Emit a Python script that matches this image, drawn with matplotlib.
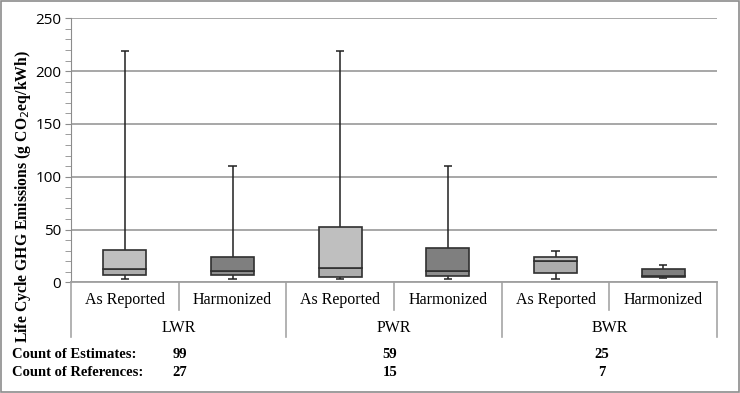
import matplotlib.pyplot as plt
from matplotlib.patches import Rectangle

groups = ['LWR', 'PWR', 'BWR']
subcats = ['As Reported', 'Harmonized']
count_estimates = [99, 59, 25]
count_references = [27, 15, 7]

# box stats per category (LWR AR, LWR H, PWR AR, PWR H, BWR AR, BWR H)
mins = [2.8, 3.1, 2.8, 2.8, 2.8, 3.8]
q1s = [7.2, 6.6, 4.7, 6.3, 9.1, 5.3]
medians = [12.6, 11.0, 13.5, 10.7, 19.9, 6.0]
q3s = [30.6, 23.7, 52.0, 32.2, 23.7, 12.6]
maxs = [219.3, 110.1, 219.3, 110.1, 29.6, 16.1]

serif = 'Liberation Serif'

fig = plt.figure(figsize=(7.4, 3.93), dpi=100)
fig.patches.append(Rectangle((0.002, 0.003), 0.996, 0.994, transform=fig.transFigure,
                             fill=False, edgecolor='#8c8c8c', linewidth=1.2))
ax = fig.add_axes([71/740, 1 - 282.3/393, 646/740, 264/393])

x = list(range(6))
upper_col = ['#bfbfbf', '#7f7f7f'] * 3
lower_col = ['#adadad', '#8f8f8f'] * 3
w = 0.4
ax.bar(x, [m - q for m, q in zip(medians, q1s)], bottom=q1s, width=w, color=lower_col,
       edgecolor='#303030', linewidth=1.2, zorder=3)
ax.bar(x, [q - m for q, m in zip(q3s, medians)], bottom=medians, width=w, color=upper_col,
       edgecolor='#303030', linewidth=1.2, zorder=3)
ax.vlines(x, q3s, maxs, color='#202020', linewidth=1.1, zorder=2)
ax.vlines(x, mins, q1s, color='#202020', linewidth=1.1, zorder=2)
ax.hlines(maxs, [i - 0.04 for i in x], [i + 0.04 for i in x], color='#202020', linewidth=1.1)
ax.hlines(mins, [i - 0.04 for i in x], [i + 0.04 for i in x], color='#202020', linewidth=1.1)

ax.set_xlim(-0.5, 5.5)
ax.set_ylim(0, 250)
ax.set_yticks(range(0, 251, 50))
ax.set_yticks(range(0, 251, 10), minor=True)
ax.tick_params(axis='y', which='both', direction='out', length=4, color='#8c8c8c',
               labelsize=11, pad=3)
for lbl in ax.get_yticklabels():
    lbl.set_family('Open Sans')
ax.set_xticks([])
ax.grid(axis='y', color='#a0a0a0', linewidth=1.3, zorder=0)
ax.set_axisbelow(True)
for s in ['top', 'right']:
    ax.spines[s].set_visible(False)
ax.spines['left'].set_color('#8c8c8c')
ax.spines['bottom'].set_color('#a0a0a0')
ax.spines['bottom'].set_linewidth(1.3)

tr = ax.get_xaxis_transform()
for i in x:
    ax.text(i, -0.068, subcats[i % 2], transform=tr, ha='center', va='center',
            family=serif, fontsize=11.5)
for sep in [0.5, 2.5, 4.5]:
    ax.plot([sep, sep], [0, -0.105], transform=tr, color='#a6a6a6', linewidth=1.2, clip_on=False)
for sep in [-0.5, 1.5, 3.5, 5.5]:
    ax.plot([sep, sep], [0, -0.206], transform=tr, color='#a6a6a6', linewidth=1.2, clip_on=False)
for g, name in enumerate(groups):
    ax.text(2 * g + 0.5, -0.172, name, transform=tr, ha='center', va='center',
            family=serif, fontsize=11.5)

fig.text(23/740, 1 - 197/393, 'Life Cycle GHG Emissions (g CO$_2$eq/kWh)', family=serif,
         fontweight='bold', fontsize=11.3, rotation=90, ha='center', va='center')

fig.text(12/740, 1 - 355/393, 'Count of Estimates:', family=serif, fontweight='bold',
         fontsize=10.5, va='center')
fig.text(12/740, 1 - 373/393, 'Count of References:', family=serif, fontweight='bold',
         fontsize=10.5, va='center')
num_x = [180, 390, 602]
for g in range(3):
    fig.text(num_x[g]/740, 1 - 355/393, str(count_estimates[g]), family=serif,
             fontweight='bold', fontsize=10.5, va='center', ha='center')
    fig.text(num_x[g]/740, 1 - 373/393, str(count_references[g]), family=serif,
             fontweight='bold', fontsize=10.5, va='center', ha='center')

fig.savefig('out.png', dpi=100)
